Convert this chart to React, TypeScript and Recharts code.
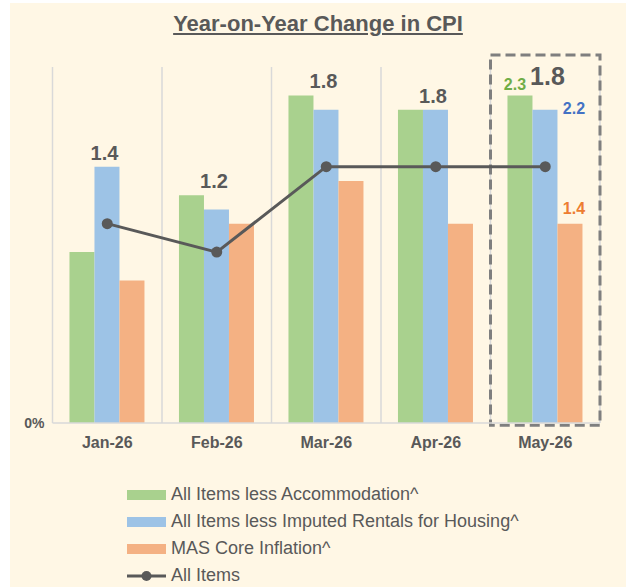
import React from 'react';
import {
  ComposedChart,
  Bar,
  Line,
  XAxis,
  YAxis,
  CartesianGrid,
  Legend,
  LabelList,
  ReferenceArea,
} from 'recharts';

const FONT = '"Liberation Sans", Arial, sans-serif';

const categories = ['Jan-26', 'Feb-26', 'Mar-26', 'Apr-26', 'May-26'];
const lessAccommodation = [1.2, 1.6, 2.3, 2.2, 2.3];
const lessImputedRentals = [1.8, 1.5, 2.2, 2.2, 2.2];
const masCoreInflation = [1.0, 1.4, 1.7, 1.4, 1.4];
const allItems = [1.4, 1.2, 1.8, 1.8, 1.8];
const seriesNames = [
  'All Items less Accommodation^',
  'All Items less Imputed Rentals for Housing^',
  'MAS Core Inflation^',
  'All Items',
];
const yTicks = [0];
const yDomain = [0, 2.5];
const highlighted = 'May-26';

const data = categories.map((month, i) => ({
  month,
  acc: lessAccommodation[i],
  rent: lessImputedRentals[i],
  core: masCoreInflation[i],
  all: allItems[i],
}));

function getBox(p: any) {
  const vb = p.viewBox && typeof p.viewBox.x === 'number' ? p.viewBox : p;
  return { x: Number(vb.x), y: Number(vb.y), w: Number(vb.width) || 0 };
}

const HeadlineLabel = (p: any) => {
  const { x, y, w } = getBox(p);
  const last = data[p.index] && data[p.index].month === highlighted;
  return (
    <text
      x={x + w / 2 + (last ? 2 : -3)}
      y={y - (last ? 10 : 7)}
      textAnchor="middle"
      fill="#595959"
      fontWeight="bold"
      fontSize={last ? 25 : 20}
      fontFamily={FONT}
    >
      {Number(p.value).toFixed(1)}
    </text>
  );
};

const makeHighlightLabel = (color: string, dx: number, dy: number) => (p: any) => {
  if (!data[p.index] || data[p.index].month !== highlighted) return null;
  const { x, y, w } = getBox(p);
  return (
    <text
      x={x + w / 2 + dx}
      y={y + dy}
      textAnchor="middle"
      fill={color}
      fontWeight="bold"
      fontSize={16}
      fontFamily={FONT}
    >
      {Number(p.value).toFixed(1)}
    </text>
  );
};

const GreenLabel = makeHighlightLabel('#70AD47', -5, -5);
const BlueLabel = makeHighlightLabel('#4472C4', 29, 4);
const OrangeLabel = makeHighlightLabel('#ED7D31', 4, -10);

const LegendContent = (props: any) => {
  const payload = (props.payload || []).filter((p: any) => p.type !== 'none');
  return (
    <div
      style={{
        height: 134,
        paddingTop: 28,
        paddingLeft: 117,
        boxSizing: 'border-box',
        fontFamily: FONT,
      }}
    >
      {payload.map((p: any) => (
        <div key={p.value} style={{ display: 'flex', alignItems: 'center', height: 27 }}>
          <svg width={39} height={12} style={{ display: 'block' }}>
            {p.type === 'line' ? (
              <>
                <line x1={0} y1={6} x2={39} y2={6} stroke={p.color} strokeWidth={3} />
                <circle cx={19.5} cy={6} r={5} fill={p.color} />
              </>
            ) : (
              <rect x={0} y={1} width={39} height={10} fill={p.color} />
            )}
          </svg>
          <span style={{ marginLeft: 5, fontSize: 18, color: '#595959', lineHeight: '27px', whiteSpace: 'nowrap' }}>
            {p.value}
          </span>
        </div>
      ))}
    </div>
  );
};

export default function App() {
  const W = 616;
  const H = 584;
  return (
    <>
      <style>{`body{margin:0}`}</style>
      <div
        style={{
          position: 'absolute',
          left: 10,
          top: 3,
          width: W,
          height: H,
          background: '#FFF7E5',
          fontFamily: FONT,
        }}
      >
        <ComposedChart
          width={W}
          height={H}
          data={data}
          margin={{ top: 64, right: 26, bottom: 0, left: 2.5 }}
          barGap={0}
          barCategoryGap="15.5%"
          style={{ fontFamily: FONT }}
        >
          <CartesianGrid
            horizontal={false}
            stroke="#D9D9D9"
            strokeWidth={1.5}
            verticalCoordinatesGenerator={({ offset, width }: any) => {
              const left = offset.left;
              const pw = typeof offset.width === 'number' ? offset.width : width - offset.left - offset.right;
              const n = categories.length;
              const pts: number[] = [];
              for (let i = 0; i <= n; i++) pts.push(left + (i * pw) / n);
              return pts;
            }}
          />
          <XAxis
            dataKey="month"
            axisLine={{ stroke: '#D9D9D9', strokeWidth: 1.5 }}
            tickLine={false}
            tickMargin={8}
            interval={0}
            tick={{ fill: '#595959', fontSize: 16, fontWeight: 'bold', fontFamily: FONT }}
          />
          <XAxis xAxisId="ov" dataKey="month" hide />
          <YAxis
            domain={yDomain}
            ticks={yTicks}
            tickFormatter={(v: number) => `${v}%`}
            axisLine={false}
            tickLine={false}
            width={40}
            tick={{ fill: '#595959', fontSize: 14, fontWeight: 'bold', fontFamily: FONT }}
          />
          <Bar dataKey="acc" name={seriesNames[0]} fill="#A9D18E" legendType="rect" isAnimationActive={false}>
            <LabelList dataKey="acc" content={GreenLabel} />
          </Bar>
          <Bar dataKey="rent" name={seriesNames[1]} fill="#9DC3E6" legendType="rect" isAnimationActive={false}>
            <LabelList dataKey="rent" content={BlueLabel} />
          </Bar>
          <Bar dataKey="core" name={seriesNames[2]} fill="#F4B183" legendType="rect" isAnimationActive={false}>
            <LabelList dataKey="core" content={OrangeLabel} />
          </Bar>
          <Bar
            xAxisId="ov"
            dataKey={(d: any) => Math.max(d.acc, d.rent, d.core)}
            fill="transparent"
            legendType="none"
            isAnimationActive={false}
          >
            <LabelList dataKey="all" content={HeadlineLabel} />
          </Bar>
          <Line
            dataKey="all"
            name={seriesNames[3]}
            type="linear"
            stroke="#595959"
            strokeWidth={3}
            dot={{ r: 5.5, fill: '#595959', stroke: '#595959', strokeWidth: 0 }}
            activeDot={false}
            legendType="line"
            isAnimationActive={false}
          />
          <ReferenceArea
            x1={highlighted}
            x2={highlighted}
            y1={-0.015}
            y2={2.585}
            ifOverflow="visible"
            fill="none"
            stroke="#7F7F7F"
            strokeWidth={3}
            strokeDasharray="10 5"
          />
          <Legend
            verticalAlign="bottom"
            align="left"
            layout="horizontal"
            wrapperStyle={{ left: 0, bottom: 0, width: W }}
            itemSorter={(item: any) => seriesNames.indexOf(item.value)}
            content={LegendContent}
          />
        </ComposedChart>
        <div
          style={{
            position: 'absolute',
            top: 10,
            left: 0,
            width: W,
            textAlign: 'center',
            fontSize: 22,
            fontWeight: 'bold',
            lineHeight: '22px',
            color: '#595959',
            textDecoration: 'underline',
          }}
        >
          Year-on-Year Change in CPI
        </div>
      </div>
    </>
  );
}
